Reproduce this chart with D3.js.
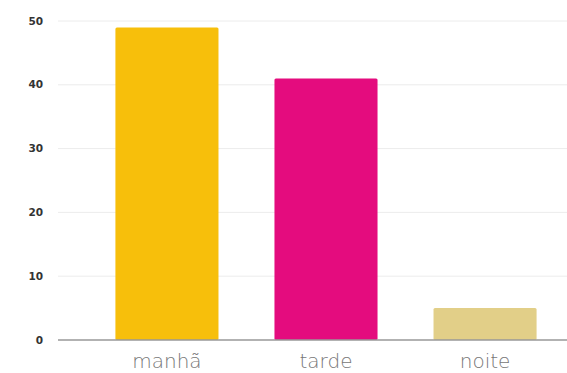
<!DOCTYPE html>
<html>
<head>
<meta charset="utf-8">
<script src="https://cdn.jsdelivr.net/npm/d3@7"></script>
<style>
  body { margin: 0; background: #fff; }
</style>
</head>
<body>
<div id="chart-area"></div>
<script>
// Chart data
var categories = ["manhã", "tarde", "noite"];
var values = [49, 41, 5];
var colors = ["#F7BF0B", "#E40C7E", "#E2CF88"];
var yTicks = [0, 10, 20, 30, 40, 50];

var width = 567;
var height = 373;
var margin = { top: 21, right: 0, bottom: 33, left: 58 };
var innerHeight = height - margin.top - margin.bottom;

var svg = d3.select("#chart-area")
    .append("svg")
    .attr("width", width)
    .attr("height", height);

var g = svg.append("g")
    .attr("transform", `translate(${margin.left}, ${margin.top})`);

// Scales
var x = d3.scaleBand()
    .domain(categories)
    .range([0, 536])
    .paddingInner(0.352)
    .paddingOuter(0.361);

var y = d3.scaleLinear()
    .domain([0, 50])
    .range([innerHeight, 0]);

// Gridlines
g.selectAll("line.grid")
    .data(yTicks.filter(d => d > 0))
    .enter()
    .append("line")
    .attr("class", "grid")
    .attr("x1", 0)
    .attr("x2", width - margin.left)
    .attr("y1", d => y(d))
    .attr("y2", d => y(d))
    .attr("stroke", "#ececec")
    .attr("stroke-width", 1);

// Y tick labels
g.selectAll("text.ytick")
    .data(yTicks)
    .enter()
    .append("text")
    .attr("class", "ytick")
    .attr("x", -15)
    .attr("y", d => y(d))
    .attr("dy", "0.35em")
    .attr("text-anchor", "end")
    .attr("font-family", "'DejaVu Sans', sans-serif")
    .attr("font-weight", "bold")
    .attr("font-size", "10.5px")
    .attr("fill", "#333")
    .text(d => d);

// Bars
g.selectAll("rect.bar")
    .data(values)
    .enter()
    .append("rect")
    .attr("class", "bar")
    .attr("x", (d, i) => x(categories[i]))
    .attr("y", d => y(d))
    .attr("width", x.bandwidth())
    .attr("height", d => innerHeight - y(d))
    .attr("rx", 1.5)
    .attr("fill", (d, i) => colors[i]);

// Baseline
g.append("line")
    .attr("x1", 0)
    .attr("x2", width - margin.left)
    .attr("y1", innerHeight)
    .attr("y2", innerHeight)
    .attr("stroke", "#999")
    .attr("stroke-width", 1.5);

// Category labels
g.selectAll("text.xlabel")
    .data(categories)
    .enter()
    .append("text")
    .attr("class", "xlabel")
    .attr("x", d => x(d) + x.bandwidth() / 2)
    .attr("y", innerHeight + 28)
    .attr("text-anchor", "middle")
    .attr("font-family", "'DejaVu Sans', sans-serif")
    .attr("font-weight", 200)
    .attr("font-size", "20px")
    .attr("fill", "#777")
    .text(d => d);
</script>
</body>
</html>
